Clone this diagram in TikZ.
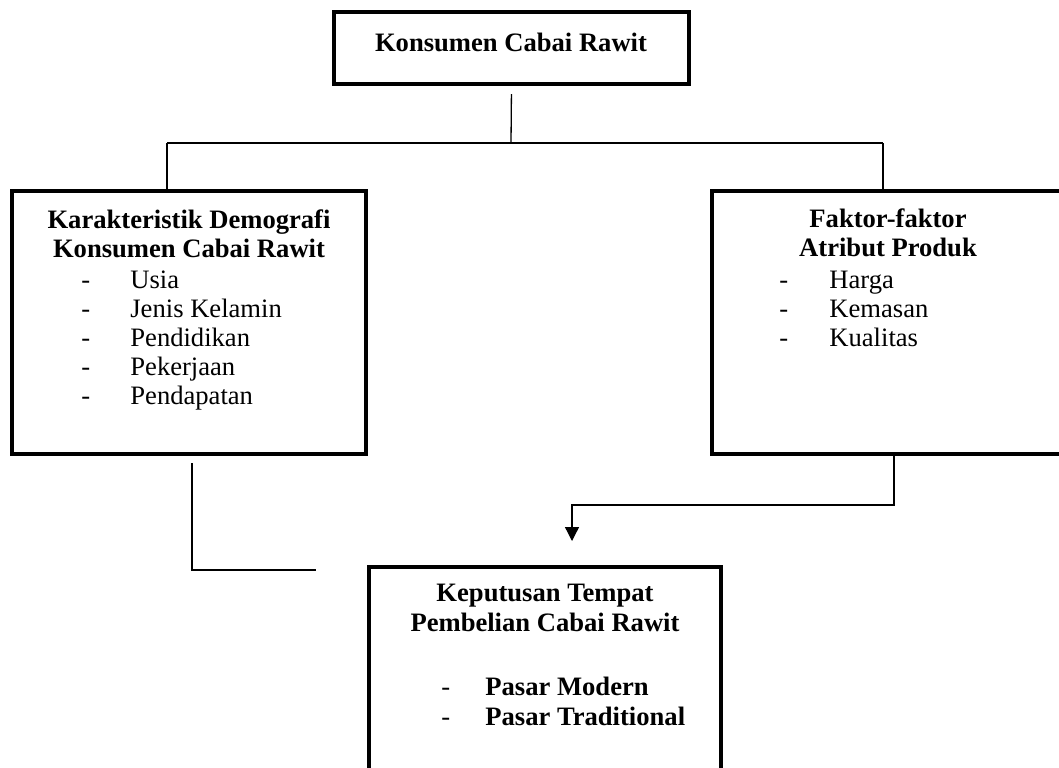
\documentclass[tikz,border=0pt]{standalone}
\usepackage{fontspec}
\setmainfont{Liberation Serif}
\usetikzlibrary{arrows.meta,positioning}

\newcommand\ukuran{\fontsize{13.3}{15}\selectfont}

\tikzset{
  kotak/.style={draw, line width=2pt, inner sep=0pt},
  garis/.style={line width=0.65pt},
  judul/.style={font=\ukuran\bfseries, anchor=base, inner sep=0pt},
  butir/.style={font=\ukuran, anchor=base west, inner sep=0pt},
  butirtebal/.style={font=\ukuran\bfseries, anchor=base west, inner sep=0pt},
}

\begin{document}
\begin{tikzpicture}[x=0.5pt, y=-0.5pt]
    \useasboundingbox (0,0) rectangle (1059,767);
    \clip (0,0) rectangle (1059,767);

    % kotak
    \node [kotak, minimum width=177.5pt, minimum height=36pt] (konsumen) at (511.5,48) {};
    \node [kotak, minimum width=177pt, minimum height=131.5pt] (demografi) at (189,322.5) {};
    \node [kotak, minimum width=183pt, minimum height=131.5pt] (atribut) at (895,322.5) {};
    \node [kotak, minimum width=176pt, minimum height=115.5pt] (keputusan) at (545,682.5) {};

    % teks kotak atas
    \node [judul] (tk) at (511,51) {Konsumen Cabai Rawit};

    % teks demografi
    \node [judul] (td1) at (189,228) {Karakteristik Demografi};
    \node [judul] (td2) at (189,257) {Konsumen Cabai Rawit};
    \foreach \teks [count=\i from 0] in {Usia, Jenis Kelamin, Pendidikan, Pekerjaan, Pendapatan} {
        \node [butir] (dl\i) at (81,{288+29*\i}) {-};
        \node [butir] (dt\i) at (130,{288+29*\i}) {\teks};
    }

    % teks atribut
    \node [judul] (ta1) at (888,227) {Faktor-faktor};
    \node [judul] (ta2) at (888,256) {Atribut Produk};
    \foreach \teks [count=\i from 0] in {Harga, Kemasan, Kualitas} {
        \node [butir] (al\i) at (779,{288+29*\i}) {-};
        \node [butir] (at\i) at (829,{288+29*\i}) {\teks};
    }

    % teks keputusan
    \node [judul] (tp1) at (545,601) {Keputusan Tempat};
    \node [judul] (tp2) at (545,631) {Pembelian Cabai Rawit};
    \foreach \teks [count=\i from 0] in {Pasar Modern, Pasar Traditional} {
        \node [butir] (pl\i) at (441,{695+30*\i}) {-};
        \node [butirtebal] (pt\i) at (485,{695+30*\i}) {\teks};
    }

    % garis penghubung
    \coordinate (cabang) at (511,143);
    \coordinate (cabkiri) at (167,143);
    \coordinate (cabkanan) at (883,143);
    \coordinate (tekuk) at (894,505);
    \coordinate (panah) at (572,541);
    \coordinate (sudut) at (192,570);
    \coordinate (ujung) at (316,570);

    \draw [garis, shorten <=4pt] (konsumen.south) -- (cabang);
    \draw [garis] (cabkiri) -- (cabkanan);
    \draw [garis] (cabkiri) -- (cabkiri |- demografi.north);
    \draw [garis] (cabkanan) -- (cabkanan |- atribut.north);
    \draw [garis, -{Triangle[width=7pt,length=7pt]}] (atribut.south -| tekuk) -- (tekuk) -| (panah);
    \draw [garis, shorten <=3.5pt] (demografi.south -| sudut) -- (sudut) -- (ujung);
\end{tikzpicture}
\end{document}
